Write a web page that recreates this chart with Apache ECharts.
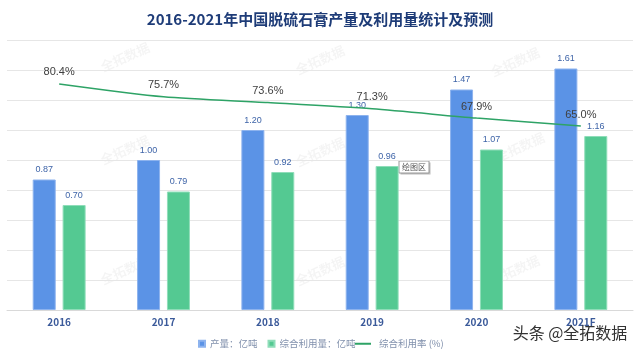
<!DOCTYPE html>
<html>
<head>
<meta charset="utf-8">
<script src="https://cdn.jsdelivr.net/npm/echarts@6/dist/echarts.min.js"></script>
<style>html,body{margin:0;padding:0;background:#fff}#c{width:640px;height:350px}</style>
</head>
<body>
<div id="c"></div>
<script>
const categories = ['2016', '2017', '2018', '2019', '2020', '2021F'];
const production = [0.87, 1.00, 1.20, 1.30, 1.47, 1.61];
const utilization = [0.70, 0.79, 0.92, 0.96, 1.07, 1.16];
const rate = [80.4, 75.7, 73.6, 71.3, 67.9, 65.0];
const seriesNames = ['产量：亿吨', '综合利用量：亿吨', '综合利用率 (%)'];
const titleText = '2016-2021年中国脱硫石膏产量及利用量统计及预测';
const watermarkText = '全拓数据';
const creditText = '头条 @全拓数据';

const FONT = '"Noto Sans CJK SC", "Noto Sans", sans-serif';
const NUMFONT = '"Liberation Sans", Arial, sans-serif';
const chart = echarts.init(document.getElementById('c'), null, {renderer: 'canvas'});

const wmPos = [[125, 57], [320, 60], [515, 62], [125, 150], [320, 152], [520, 147], [125, 270], [320, 271], [515, 270]];
const graphics = wmPos.map(p => ({
  type: 'text', x: p[0], y: p[1], rotation: 0.42, z: 0,
  style: {text: watermarkText, fontSize: 13, fontWeight: 'bold', fontFamily: FONT,
          fill: 'rgba(0,0,0,0.045)', align: 'center', verticalAlign: 'middle'}
}));
graphics.push({
  type: 'group', x: 399, y: 161, z: 100,
  children: [
    {type: 'rect', shape: {x: 1.5, y: 1.5, width: 30, height: 12}, style: {fill: '#bbb'}},
    {type: 'rect', shape: {x: 0, y: 0, width: 30, height: 12}, style: {fill: '#fff', stroke: '#999', lineWidth: 1}},
    {type: 'text', x: 15, y: 6, style: {text: '绘图区', fontSize: 8, fontFamily: FONT, fill: '#555', align: 'center', verticalAlign: 'middle'}}
  ]
});
graphics.push({
  type: 'text', x: 570, y: 333, z: 100,
  style: {text: creditText, fontSize: 16, fontFamily: FONT, fill: '#333',
          align: 'center', verticalAlign: 'middle'}
});

chart.setOption({
  animation: false,
  backgroundColor: '#fff',
  title: {
    text: titleText, left: 'center', top: 7,
    textStyle: {fontSize: 15, fontWeight: 'bold', color: '#1E3C78', fontFamily: FONT}
  },
  legend: [
    {
      data: [seriesNames[0], seriesNames[1]], left: 193, top: 334,
      icon: 'rect', itemWidth: 6, itemHeight: 6, itemGap: 10,
      textStyle: {fontSize: 9.5, color: '#8090ac', fontFamily: FONT}
    },
    {
      data: [seriesNames[2]], left: 350, top: 334,
      icon: 'rect', itemWidth: 16, itemHeight: 2,
      textStyle: {fontSize: 9.5, color: '#8090ac', fontFamily: FONT, padding: [0, 0, 0, 3]}
    }
  ],
  grid: {left: 7, right: 7, top: 40, bottom: 40, containLabel: false},
  xAxis: {
    type: 'category', data: categories,
    axisLine: {lineStyle: {color: '#d9d9d9'}},
    axisTick: {show: false},
    axisLabel: {color: '#3B5A9A', fontWeight: 'bold', fontSize: 10, margin: 7, fontFamily: FONT}
  },
  yAxis: [
    {type: 'value', min: 0, max: 1.8, interval: 0.2, axisLabel: {show: false},
     axisLine: {show: false}, axisTick: {show: false},
     splitLine: {lineStyle: {color: '#e6e6e6'}}},
    {type: 'value', min: -2.4, max: 96.5, show: false, splitLine: {show: false}}
  ],
  series: [
    {
      name: seriesNames[0], type: 'bar', data: production, barWidth: 23, barGap: '30%',
      itemStyle: {color: '#5B93E6', borderColor: '#8DB3EE', borderWidth: 1},
      label: {show: true, position: 'top', distance: 5, fontSize: 9, color: '#3E64A8',
              fontFamily: NUMFONT, formatter: p => p.value.toFixed(2)}
    },
    {
      name: seriesNames[1], type: 'bar', data: utilization, barWidth: 23,
      itemStyle: {color: '#54C992', borderColor: '#8FDDB9', borderWidth: 1},
      label: {show: true, position: 'top', distance: 5, fontSize: 9, color: '#3E64A8',
              fontFamily: NUMFONT, formatter: p => p.value.toFixed(2)}
    },
    {
      name: seriesNames[2], type: 'line', yAxisIndex: 1, data: rate, smooth: 0.25,
      symbol: 'circle', symbolSize: 0, showSymbol: true, z: 5,
      lineStyle: {color: '#2EA366', width: 1.5}, itemStyle: {color: '#2EA366'},
      label: {show: true, position: 'top', distance: 6, fontSize: 11, color: '#404040',
              fontFamily: NUMFONT, formatter: p => p.value.toFixed(1) + '%'}
    }
  ],
  graphic: graphics
});
</script>
</body>
</html>
